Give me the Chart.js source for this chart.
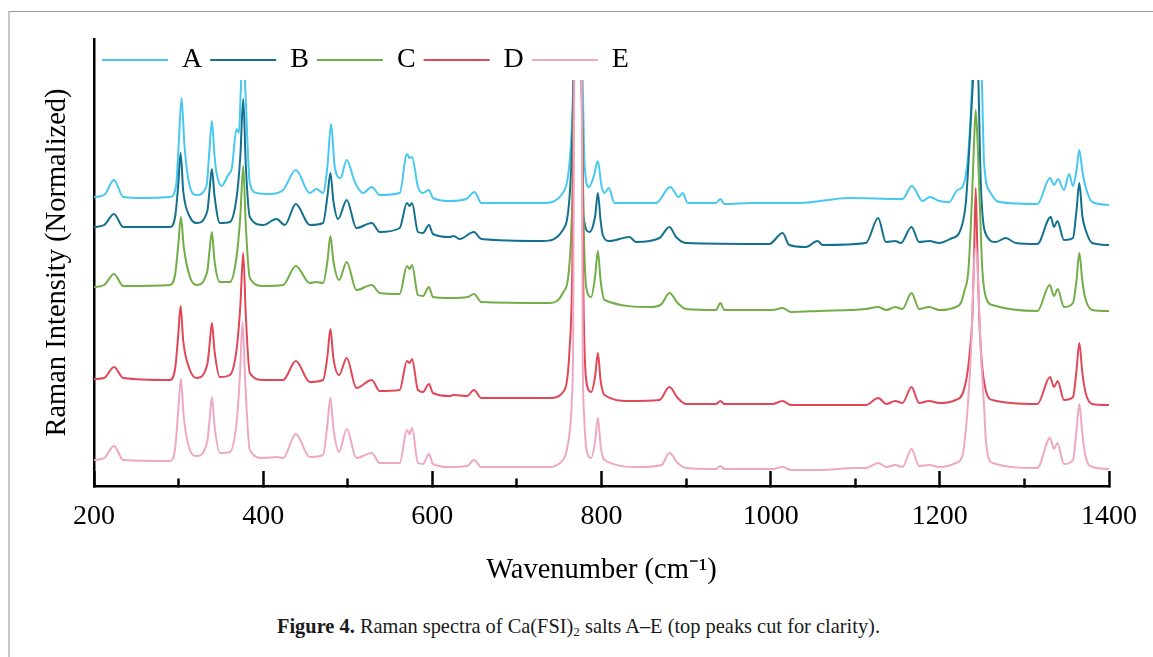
<!DOCTYPE html>
<html>
<head>
<meta charset="utf-8">
<script src="https://cdn.jsdelivr.net/npm/chart.js@4/dist/chart.umd.min.js"></script>
<style>
  html, body { margin: 0; padding: 0; background: #fff; width: 1153px; height: 657px; overflow: hidden; }
  #frame { position: absolute; left: 8px; top: 11px; width: 1200px; height: 700px;
           border-top: 1px solid #9a9a9a; border-left: 2px solid #c8c8c8; box-sizing: border-box; }
  #wrap { position: absolute; left: 0; top: 0; width: 1166px; height: 600px; }
  #caption { position: absolute; left: 277px; top: 614px; font-family: 'Liberation Serif', serif;
             font-size: 20.4px; line-height: 24px; color: #1a1a1a; white-space: nowrap; }
  #caption sub { font-size: 13px; vertical-align: -3px; line-height: 0; }
</style>
</head>
<body>
<div id="frame"></div>
<div id="wrap"><canvas id="c" width="1166" height="600"></canvas></div>
<div id="caption"><b>Figure 4.</b> Raman spectra of Ca(FSI)<sub>2</sub> salts A–E (top peaks cut for clarity).</div>
<script>
// ---- data (wavenumber cm-1, normalized/offset intensity) ----
const seriesNames = ['A', 'B', 'C', 'D', 'E'];
const xTickLabels = [200, 400, 600, 800, 1000, 1200, 1400];

const specA = [[200,289],[212,291],[223.6,306],[234.6,289],[260,288],[289.8,289],[297,300],[300,340],[303.5,388],[307,340],[313.4,299],[321.3,291],[333,300],[336,330],[339.4,365],[342.5,330],[344.9,313],[350.8,300],[358.6,311],[363,318],[368.5,357],[371.3,353],[373.5,395],[376.2,450],[379,395],[384.2,303],[392.2,293],[407.9,292],[423.6,296],[438.6,316],[455.1,293],[463,297],[470.8,293],[476,320],[480.3,362],[484.5,320],[491.3,308],[498.8,326],[508.3,304],[518.1,293],[528.4,299],[537.8,291],[561.4,293],[570,332],[573.2,328],[576,329],[583,299],[588.9,293],[596,296],[600.7,288],[620.5,285],[640,287],[650,294],[657.9,283],[730.6,283],[754.3,293],[762.2,323],[765.5,370],[767,410],[772,450],[777.5,410],[779.9,323],[785,299],[791,310],[795.7,325],[800,300],[803.5,293],[808.6,298],[815.3,283],[864.6,283],[881.1,299],[891.3,289],[896,293],[901.9,283],[935.4,283],[940.5,287],[945.2,282],[978.7,283],[1033.8,283],[1092.9,288],[1155.8,287],[1166.9,300],[1179.5,285],[1188.2,289],[1199.2,285],[1211,284],[1220.8,296],[1226.7,299],[1232.6,323],[1236.5,370],[1238.5,410],[1243.5,450],[1249.5,410],[1251,360],[1252.3,323],[1260.2,293],[1270,284],[1315.3,282],[1330.3,308],[1335,301],[1339.7,307],[1346.8,296],[1352.7,312],[1357.4,300],[1361.5,315],[1364.9,336],[1368.5,315],[1372.4,299],[1380.2,284],[1400,281]];

const specB = [[200,259],[212,261],[223.6,272],[234.6,259],[289.8,259],[296,270],[299.5,300],[302.4,333],[305.5,295],[313.4,269],[321.3,263],[334,275],[336.5,295],[339.4,317],[342.5,290],[348.8,263],[360.6,264],[368.5,288],[373,330],[376.4,387],[379.5,320],[384.2,269],[400,261],[415.7,267],[425.6,261],[438.6,282],[455.1,261],[470.8,263],[476,290],[479.5,313],[483,285],[488.6,267],[498.8,286],[510.2,258],[528.4,263],[537.8,254],[561.4,258],[570,283],[573.2,280],[576,283],[583,254],[588.9,253],[596,261],[600.7,252],[620.5,249],[625.2,250],[632.3,247],[649.2,254],[657.9,247],[730.6,245],[754.3,256],[762.2,289],[765.5,350],[767,410],[772,450],[776.5,410],[777.7,330],[778.7,269],[785.8,254],[792.5,270],[795.7,293],[799,265],[801.5,251],[809.4,245],[833,249],[840.9,244],[868.5,248],[880.3,259],[888.2,249],[899.9,243],[998.4,242],[1014.1,253],[1022,241],[1041.7,239],[1055.5,245],[1061.4,241],[1112.6,243],[1127.1,268],[1136.2,244],[1147.2,245],[1153.9,243],[1166.5,259],[1175.5,244],[1187.4,245],[1199.2,243],[1214.9,248],[1222.8,253],[1230.7,283],[1235,340],[1239.5,410],[1242.5,450],[1245.5,410],[1247.5,330],[1249.5,283],[1256.2,249],[1266.1,244],[1277.9,248],[1289.7,243],[1315.3,242],[1331.1,269],[1335,259],[1338.9,265],[1346.8,246],[1357.4,248],[1361.5,275],[1364.9,303],[1368.5,270],[1372.4,256],[1380.2,243],[1400,241]];

const specC = [[200,199],[212,201],[223.6,212],[234.6,200],[289.8,201],[296,212],[299.5,240],[302.8,269],[306,240],[313.4,209],[321.3,201],[334,215],[336.5,235],[339.4,254],[342.5,225],[348.8,204],[360.6,204],[368.5,229],[373,270],[376.4,320],[379.5,260],[384.2,208],[400,200],[423.6,201],[438.6,220],[455.1,203],[463,204],[470.8,203],[476,225],[479.5,250],[483,225],[489.7,206],[498.8,224],[510.2,196],[528.4,201],[537.8,193],[561.4,192],[570,220],[573.2,217],[576,221],[583,191],[588.9,190],[596,199],[600.7,189],[620.5,188],[642,189],[649.2,192],[657.9,184],[738.6,183],[754.3,193],[762.2,223],[765.5,290],[767.5,410],[772,450],[776.5,410],[778.5,280],[781.9,199],[787.8,189],[792.5,210],[795.7,235],[799,205],[803.5,186],[860.6,179],[871,182],[880.3,193],[890.1,183],[899.9,177],[935.4,176],[940.5,183],[945.2,176],[1002.3,176],[1014.1,178],[1024,174],[1057.5,175],[1112.6,177],[1127.1,179],[1136.9,176],[1147.2,179],[1155.8,177],[1166.5,193],[1175.5,177],[1187.4,179],[1199.2,176],[1218.9,179],[1224.8,183],[1229,195],[1233.8,216],[1237.8,283],[1240.3,340],[1242.4,376],[1244.8,340],[1247.2,283],[1250.3,216],[1256.2,185],[1262.1,181],[1315.3,175],[1329.9,201],[1335,190],[1339.3,197],[1346.8,179],[1357.4,183],[1361.5,205],[1364.9,233],[1368.5,205],[1371.6,189],[1380.2,176],[1400,175]];

const specD = [[200,107],[212,108],[223.6,119],[234.6,108],[289.8,106],[296,118],[299.5,150],[302.4,180],[305.5,145],[313.4,116],[321.3,108],[334,122],[336.5,140],[339.4,163],[342.5,135],[348.8,109],[360.6,111],[368.5,136],[373,180],[376.4,233],[379.5,170],[384.2,113],[400,106],[415.7,106],[423.6,106],[438.6,125],[455.1,104],[470.8,106],[476,130],[479.5,157],[483,128],[489.7,111],[498.8,128],[510.2,98],[528.4,106],[537.8,95],[561.4,96],[570,125],[573.2,123],[576,127],[583,96],[588.9,94],[596,102],[600.7,93],[620.5,90],[625.2,91],[641,90],[649.2,96],[657.9,88],[738.6,88],[756.3,96],[762.2,136],[765.5,220],[767.5,410],[772,450],[776.5,410],[778.5,200],[781.9,106],[787.8,94],[792.5,110],[795.7,133],[799,105],[803.5,91],[833,85],[868.5,86],[880.3,99],[890.1,88],[899.9,82],[935.4,82],[940.5,85],[945.2,82],[1002.3,82],[1014.1,85],[1024,81],[1057.5,81],[1112.6,81],[1127.1,88],[1136.9,82],[1147.2,85],[1155.8,83],[1166.5,99],[1175.5,83],[1187.4,85],[1199.2,83],[1218.9,86],[1226.7,92],[1232,110],[1235.5,135],[1238.5,170],[1240.5,230],[1242.4,298],[1244.5,230],[1246.5,170],[1249.5,125],[1254.3,96],[1262.1,86],[1315.3,82],[1330.3,109],[1335,99],[1339.3,105],[1346.8,86],[1357.4,89],[1361.5,115],[1364.9,143],[1368.5,113],[1372.4,93],[1380.2,82],[1400,81]];

const specE = [[200,26],[212,28],[223.6,40],[234.6,26],[289.8,25],[296,38],[299.5,75],[302.8,107],[306,70],[313.4,36],[321.3,30],[334,45],[336.5,65],[339.4,89],[342.5,60],[348.8,33],[360.6,34],[368.5,63],[372.5,110],[375.6,164],[379,100],[384.2,36],[400,28],[415.7,29],[423.6,28],[438.6,52],[455.1,29],[470.8,31],[476,62],[479.5,88],[483,58],[489.7,34],[498.8,57],[510.2,28],[528.4,33],[537.8,23],[561.4,23],[570,56],[573.2,52],[576,58],[583,23],[588.9,22],[596,32],[600.7,22],[620.5,19],[641,20],[649.2,26],[657.9,19],[738.6,19],[754.3,26],[758.2,33],[762.5,55],[764.8,83],[766.5,150],[767.8,410],[772,450],[776.5,410],[777.8,130],[779.5,70],[782,38],[787.8,28],[792.5,45],[795.7,68],[799,40],[803.5,26],[844.9,19],[871,21],[880.3,33],[890.1,23],[899.9,18],[935.4,17],[940.5,20],[945.2,17],[1002.3,17],[1014.1,19],[1024,16],[1057.5,16],[1100.8,18],[1112.6,18],[1127.1,23],[1136.9,19],[1147.2,21],[1155.8,19],[1166.5,37],[1175.5,20],[1187.4,21],[1199.2,19],[1218.9,23],[1226.7,30],[1230,50],[1233,80],[1236.3,125],[1242.4,240],[1249,125],[1252.3,80],[1254.5,45],[1262.1,23],[1315.3,18],[1330.3,48],[1335,37],[1338.9,43],[1346.8,22],[1357.4,26],[1361.5,55],[1364.9,82],[1368.5,52],[1372.4,29],[1380.2,19],[1400,17]];

const allSpectra = [specA, specB, specC, specD, specE];

// ---- styles ----
const seriesColors = ['#48C8F0', '#13718F', '#72AD47', '#E04858', '#EEA8C3'];
const FONT = "'Liberation Serif', 'Times New Roman', serif";

const datasets = allSpectra.map((spec, i) => ({
  label: seriesNames[i],
  data: spec.map(p => ({ x: p[0], y: p[1] })),
  borderColor: seriesColors[i],
  backgroundColor: seriesColors[i],
  borderWidth: 2,
  pointRadius: 0,
  fill: false,
  cubicInterpolationMode: 'monotone',
  order: seriesNames.length - 1 - i,
  clip: { left: 0, top: -41, right: 0, bottom: 0 }
}));

// legend drawn inside the plot area (takes no layout height, restored for drawing)
const legendInside = {
  id: 'legendInside',
  beforeLayout(chart) {
    const lg = chart.legend;
    if (lg && !lg._insidePatched) {
      const origFit = lg.fit;
      lg.fit = function () { origFit.call(this); this._realH = this.height; this.height = 0; };
      lg._insidePatched = true;
    }
  },
  afterLayout(chart) {
    const lg = chart.legend;
    if (lg && lg._realH) {
      lg.top = chart.chartArea.top - 1;
      lg.height = lg._realH;
      lg.bottom = lg.top + lg._realH;
    }
  }
};

new Chart(document.getElementById('c'), {
  type: 'line',
  data: { datasets },
  plugins: [legendInside],
  options: {
    responsive: false,
    animation: false,
    devicePixelRatio: 1,
    events: [],
    layout: { padding: { top: 39, right: 0, bottom: 0, left: 0 } },
    plugins: {
      tooltip: { enabled: false },
      legend: {
        display: true,
        position: 'top',
        align: 'start',
        fullSize: false,
        labels: {
          boxWidth: 66,
          boxHeight: 2,
          padding: 8,
          color: '#000',
          font: { family: FONT, size: 28 },
          sort: (a, b) => a.datasetIndex - b.datasetIndex,
          generateLabels: (chart) =>
            Chart.defaults.plugins.legend.labels.generateLabels(chart).map(l => ({
              ...l, lineWidth: 0, fillStyle: seriesColors[l.datasetIndex]
            }))
        }
      }
    },
    scales: {
      x: {
        type: 'linear',
        min: 200,
        max: 1400,
        afterFit: (s) => { s.height = 114; },
        border: { display: true, color: '#000', width: 2.5 },
        grid: {
          display: true,
          drawOnChartArea: false,
          drawTicks: true,
          tickLength: -15,
          tickWidth: 2.5,
          tickColor: '#000',
          tickBorderDash: (ctx) => (ctx.tick && xTickLabels.includes(ctx.tick.value)) ? [] : [9, 100]
        },
        ticks: {
          stepSize: 100,
          autoSkip: false,
          maxRotation: 0,
          padding: 29,
          color: '#000',
          font: { family: FONT, size: 28 },
          callback: (v) => xTickLabels.includes(v) ? String(v) : ''
        },
        title: {
          display: true,
          text: 'Wavenumber (cm\u207B\u00B9)',
          color: '#000',
          font: { family: FONT, size: 28.5 },
          padding: { top: 0, bottom: 12 }
        }
      },
      y: {
        type: 'linear',
        min: 0,
        max: 447,
        afterFit: (s) => { s.width = 94; },
        border: { display: true, color: '#000', width: 2.5 },
        grid: { display: false, drawTicks: false },
        ticks: { display: false },
        title: {
          display: true,
          text: 'Raman Intensity (Normalized)',
          color: '#000',
          font: { family: FONT, size: 28.5 },
          padding: { top: 40, bottom: 0 }
        }
      }
    }
  }
});
</script>
</body>
</html>
